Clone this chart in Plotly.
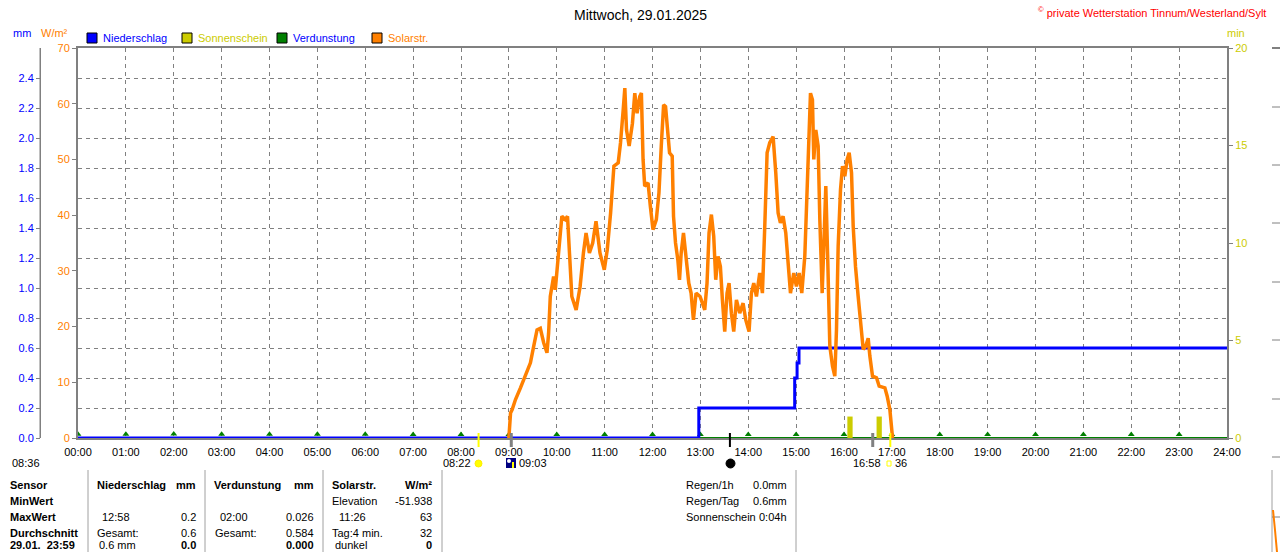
import plotly.graph_objects as go

W, H = 1280, 552
L_PX, R_PX, T_PX, B_PX = 78, 1227, 48, 438   # Diagrammfläche in Pixeln

# --- Daten -------------------------------------------------------------
hours = list(range(25))
hour_labels = ["%02d:00" % h for h in hours]

# Solarstrahlung W/m² (Zeit in Stunden)
solar_t = [9.000, 9.035, 9.069, 9.138, 9.242, 9.346, 9.450, 9.519, 9.588, 9.657,
           9.727, 9.796, 9.830, 9.865, 9.934, 9.969, 10.038, 10.107, 10.176, 10.225,
           10.266, 10.315, 10.405, 10.488, 10.557, 10.612, 10.682, 10.751, 10.820, 10.903,
           10.993, 11.055, 11.125, 11.194, 11.284, 11.332, 11.388, 11.422, 11.457, 11.512,
           11.581, 11.630, 11.678, 11.734, 11.768, 11.803, 11.837, 11.907, 11.955, 12.010,
           12.080, 12.135, 12.183, 12.232, 12.273, 12.322, 12.356, 12.412, 12.439, 12.481,
           12.529, 12.564, 12.599, 12.647, 12.702, 12.758, 12.806, 12.855, 12.910, 12.993,
           13.091, 13.139, 13.181, 13.230, 13.279, 13.321, 13.369, 13.418, 13.460, 13.509,
           13.557, 13.599, 13.648, 13.697, 13.753, 13.822, 13.892, 13.948, 14.017, 14.066,
           14.115, 14.171, 14.240, 14.296, 14.345, 14.394, 14.449, 14.519, 14.575, 14.624,
           14.672, 14.728, 14.784, 14.833, 14.882, 14.951, 15.007, 15.063, 15.118, 15.181,
           15.230, 15.272, 15.300, 15.341, 15.369, 15.411, 15.460, 15.495, 15.544, 15.578,
           15.620, 15.662, 15.704, 15.760, 15.808, 15.843, 15.878, 15.927, 15.969, 16.017,
           16.066, 16.108, 16.157, 16.192, 16.240, 16.296, 16.345, 16.401, 16.456, 16.505,
           16.540, 16.596, 16.679, 16.735, 16.854, 16.902, 16.958, 16.993, 17.014]
solar_w = [0.0, 4.5, 5.1, 6.9, 9.0, 11.4, 13.5, 16.5, 19.4, 19.7,
           17.1, 15.3, 18.8, 25.4, 29.0, 26.6, 33.2, 39.8, 39.2, 39.8,
           33.2, 25.4, 23.0, 27.2, 33.2, 36.8, 33.2, 35.0, 38.9, 33.2,
           30.2, 33.8, 40.4, 48.8, 49.4, 53.0, 58.9, 62.8, 55.3, 52.4,
           56.5, 61.9, 58.3, 61.3, 61.9, 50.0, 45.2, 45.8, 41.6, 37.4,
           39.2, 44.0, 52.4, 59.8, 59.5, 54.7, 51.2, 50.6, 39.8, 35.0,
           32.0, 28.4, 33.2, 36.8, 32.6, 27.8, 26.0, 21.2, 26.0, 25.4,
           23.0, 27.8, 36.8, 40.1, 36.2, 28.4, 32.6, 30.8, 24.8, 19.1,
           26.0, 27.8, 22.4, 19.1, 24.8, 22.4, 24.2, 21.2, 19.1, 26.0,
           27.8, 25.4, 29.6, 26.0, 38.0, 51.2, 53.0, 54.1, 47.6, 40.4,
           38.6, 39.8, 36.8, 30.2, 26.0, 29.6, 27.2, 29.6, 26.0, 32.6,
           43.4, 52.4, 61.9, 60.7, 50.0, 55.3, 52.4, 39.2, 26.0, 34.4,
           45.2, 31.4, 16.5, 12.9, 11.1, 19.4, 34.4, 44.6, 48.8, 47.0,
           50.0, 51.2, 47.6, 38.0, 30.8, 25.4, 21.2, 15.9, 16.5, 17.9,
           14.7, 11.1, 10.8, 9.3, 9.0, 7.5, 5.1, 2.1, 0.0]

# Niederschlag (Tagessumme, mm)
rain_t = [0.0, 12.967, 14.970, 15.020, 15.060, 24.0]
rain_mm = [0.0, 0.2, 0.4, 0.5, 0.6, 0.6]

# Verdunstung je Stunde (mm)
evap_t = list(range(24))
evap_mm = [0.025, 0.025, 0.026, 0.025, 0.025, 0.025, 0.025, 0.024, 0.024, 0.024,
           0.024, 0.024, 0.024, 0.024, 0.024, 0.024, 0.024, 0.024, 0.024, 0.024,
           0.024, 0.024, 0.024, 0.024]

# Sonnenschein (min)
sun_t = [16.125, 16.735]
sun_min = [1.1, 1.1]

mm_ticks = [round(0.2 * i, 1) for i in range(13)]   # 0.0 .. 2.4
wm_ticks = [0, 10, 20, 30, 40, 50, 60, 70]
min_ticks = [0, 5, 10, 15, 20]

# Markierungen unter der Achse (Zeit, Farbe)
events_t = [8.367, 9.05, 13.617, 16.6, 16.967]
events_c = ["#ffff00", "#808080", "#000000", "#808080", "#ffff00"]

BLUE, ORANGE, YELLOW, GREEN, GRAY = "#0000ff", "#ff8000", "#cccc00", "#008000", "#808080"
FONT = "Liberation Sans, Arial, sans-serif"


def px(x):
    return x / W


def py(y):
    return (B_PX - y) / (B_PX - T_PX)


fig = go.Figure()

fig.add_trace(go.Scatter(x=[0, 24], y=[0, 0], mode="lines",
                         line=dict(color=GREEN, width=2), yaxis="y"))
fig.add_trace(go.Scatter(x=evap_t, y=evap_mm, mode="markers",
                         marker=dict(symbol="triangle-up", size=6, color=GREEN), yaxis="y"))
fig.add_trace(go.Scatter(x=rain_t, y=rain_mm, mode="lines", line_shape="hv",
                         line=dict(color=BLUE, width=3), yaxis="y"))
fig.add_trace(go.Scatter(x=solar_t, y=solar_w, mode="lines",
                         line=dict(color=ORANGE, width=3.5), yaxis="y2"))
fig.add_trace(go.Bar(x=sun_t, y=sun_min, width=0.11, marker=dict(color=YELLOW, line_width=0),
                     yaxis="y3"))
# leere Spur, damit die freie mm-Achse gezeichnet wird
fig.add_trace(go.Scatter(x=[None], y=[None], yaxis="y4"))

fig.update_layout(
    width=W, height=H,
    margin=dict(l=0, r=0, t=T_PX, b=H - B_PX, pad=0),
    paper_bgcolor="white", plot_bgcolor="white",
    showlegend=False,
    font=dict(family=FONT, size=11, color="black"),
    xaxis=dict(domain=[px(L_PX), px(R_PX)], range=[0, 24], tickvals=hours, ticktext=hour_labels,
               showgrid=True, gridcolor=GRAY, griddash="4px,4px", gridwidth=1,
               showline=True, linecolor=GRAY, linewidth=2, mirror=True, automargin=False,
               ticks="", zeroline=False, ticklabelstandoff=3,
               tickfont=dict(size=11, color="black")),
    yaxis=dict(range=[0, 2.6], tickvals=mm_ticks, showticklabels=False, ticks="",
               showgrid=True, gridcolor=GRAY, griddash="4px,4px", gridwidth=1, automargin=False,
               showline=True, linecolor=GRAY, linewidth=2, mirror=True, zeroline=False),
    yaxis2=dict(overlaying="y", anchor="x", side="left", range=[0, 70], tickvals=wm_ticks,
                ticks="outside", ticklen=5, tickcolor=GRAY, showgrid=False, showline=False,
                zeroline=False, automargin=False, tickfont=dict(color=ORANGE, size=11)),
    yaxis3=dict(overlaying="y", anchor="x", side="right", range=[0, 20], tickvals=min_ticks,
                ticks="outside", ticklen=5, tickcolor=GRAY, showgrid=False, showline=False,
                zeroline=False, automargin=False, tickfont=dict(color=YELLOW, size=11)),
    yaxis4=dict(overlaying="y", anchor="free", position=px(40), side="left", range=[0, 2.6],
                tickvals=mm_ticks, ticktext=["%.1f" % v for v in mm_ticks],
                ticks="outside", ticklen=4, tickcolor=GRAY, showgrid=False,
                showline=True, linecolor=GRAY, linewidth=1, zeroline=False, automargin=False,
                tickfont=dict(color=BLUE, size=11)),
)

ann = []


def text(x, y, s, color="black", size=11, anchor="left"):
    ann.append(dict(x=px(x), y=py(y), xref="paper", yref="paper", text=s, showarrow=False,
                    xanchor=anchor, yanchor="middle", font=dict(color=color, size=size)))


text(640, 15, "Mittwoch, 29.01.2025", size=14, anchor="center")
text(1268, 12, "<sup>©</sup> private Wetterstation Tinnum/Westerland/Sylt", color="#ff0000",
     anchor="right")
text(22, 33, "mm", color=BLUE, anchor="center")
text(54, 33, "W/m²", color=ORANGE, anchor="center")
text(1236, 33, "min", color=YELLOW, anchor="center")

shapes = []
# mm-Achsenlinie
shapes.append(dict(type="line", xref="paper", yref="paper", x0=px(40), x1=px(40),
                   y0=py(48), y1=py(438), line=dict(color=GRAY, width=1)))

legend = [(87, "Niederschlag", BLUE, BLUE), (182, "Sonnenschein", YELLOW, YELLOW),
          (277, "Verdunstung", GREEN, BLUE), (372, "Solarstr.", ORANGE, ORANGE)]
for x0, name, fill, tcol in legend:
    shapes.append(dict(type="rect", xref="paper", yref="paper", x0=px(x0), x1=px(x0 + 10),
                       y0=py(43), y1=py(33), fillcolor=fill, line=dict(color="black", width=1)))
    text(x0 + 14, 38, name, color=tcol)

# Ereignis-Striche an der Zeitachse
for t, c in zip(events_t, events_c):
    shapes.append(dict(type="line", xref="x", yref="paper", x0=t, x1=t, y0=py(433), y1=py(447),
                       line=dict(color=c, width=2 if c != "#808080" else 3)))

text(10, 463, "08:36")
shapes.append(dict(type="path", xref="paper", yref="paper",
                   path="M %f %f A 1 1 0 0 1 %f %f Z" % (px(41), py(466), px(49), py(466)),
                   fillcolor="#ffff00", line=dict(color="#ffff00", width=1)))
text(473, 463, "08:22", anchor="right")
shapes.append(dict(type="circle", xref="paper", yref="paper", x0=px(475), x1=px(482),
                   y0=py(467), y1=py(460), fillcolor="#ffff00", line=dict(color="#ffee00", width=1)))
shapes.append(dict(type="rect", xref="paper", yref="paper", x0=px(506), x1=px(516),
                   y0=py(468), y1=py(458), fillcolor="#000080", line=dict(width=0)))
shapes.append(dict(type="circle", xref="paper", yref="paper", x0=px(507), x1=px(511),
                   y0=py(463), y1=py(459), fillcolor="white", line=dict(width=0)))
shapes.append(dict(type="line", xref="paper", yref="paper", x0=px(513), x1=px(513),
                   y0=py(468), y1=py(462), line=dict(color="#ffff00", width=2)))
text(517, 463, "09:03")
shapes.append(dict(type="circle", xref="paper", yref="paper", x0=px(726), x1=px(735),
                   y0=py(468), y1=py(459), fillcolor="black", line=dict(color="black", width=1)))
text(883, 463, "16:58", anchor="right")
shapes.append(dict(type="rect", xref="paper", yref="paper", x0=px(887), x1=px(891),
                   y0=py(466), y1=py(461), line=dict(color="#ffff00", width=1)))
text(893, 463, "36")

# Tabelle unten
for xs in [88, 205, 323, 442, 796, 1272]:
    shapes.append(dict(type="line", xref="paper", yref="paper", x0=px(xs), x1=px(xs),
                       y0=py(470), y1=py(552), line=dict(color="#a0a0a0", width=1)))

rows = [485, 501, 517, 533, 545]
col_sensor = ["<b>Sensor</b>", "<b>MinWert</b>", "<b>MaxWert</b>", "<b>Durchschnitt</b>",
              "<b>29.01.  23:59</b>"]
col_rain_l = [(95, "<b>Niederschlag</b>"), None, (100, "12:58"), (95, "Gesamt:"), (97, "0.6 mm")]
col_rain_r = ["<b>mm</b>", None, "0.2", "0.6", "<b>0.0</b>"]
col_evap_l = [(212, "<b>Verdunstung</b>"), None, (218, "02:00"), (213, "Gesamt:"), None]
col_evap_r = ["<b>mm</b>", None, "0.026", "0.584", "<b>0.000</b>"]
col_sol_l = [(330, "<b>Solarstr.</b>"), (330, "Elevation"), (337, "11:26"), (330, "Tag:4 min."),
             (333, "dunkel")]
col_sol_r = ["<b>W/m²</b>", "-51.938", "63", "32", "<b>0</b>"]
for i, y in enumerate(rows):
    text(8, y, col_sensor[i])
    for col_l, col_r, xr in [(col_rain_l, col_rain_r, 198), (col_evap_l, col_evap_r, 316),
                             (col_sol_l, col_sol_r, 434)]:
        if col_l[i]:
            text(col_l[i][0], y, col_l[i][1])
        if col_r[i]:
            text(xr, y, col_r[i], anchor="right")

info_l = ["Regen/1h", "Regen/Tag", "Sonnenschein"]
info_r = ["0.0mm", "0.6mm", "0:04h"]
for i in range(3):
    text(684, rows[i], info_l[i])
    text(789, rows[i], info_r[i], anchor="right")

# Rand des nächsten Diagramms rechts
shapes.append(dict(type="line", xref="paper", yref="paper", x0=px(1272), x1=px(1280),
                   y0=py(48), y1=py(48), line=dict(color=GRAY, width=2)))
for yy in [107, 165, 223, 282, 340, 399, 457, 517]:
    shapes.append(dict(type="line", xref="paper", yref="paper", x0=px(1272), x1=px(1280),
                       y0=py(yy), y1=py(yy), line=dict(color=GRAY, width=1, dash="dash")))
shapes.append(dict(type="path", xref="paper", yref="paper",
                   path="M %f %f L %f %f L %f %f" % (px(1273), py(510), px(1275), py(530),
                                                      px(1277), py(552)),
                   line=dict(color=ORANGE, width=2)))

fig.update_layout(annotations=ann, shapes=shapes)

fig.write_html("out.html", config={"displayModeBar": False},
               post_script="document.body.style.margin='0';")
